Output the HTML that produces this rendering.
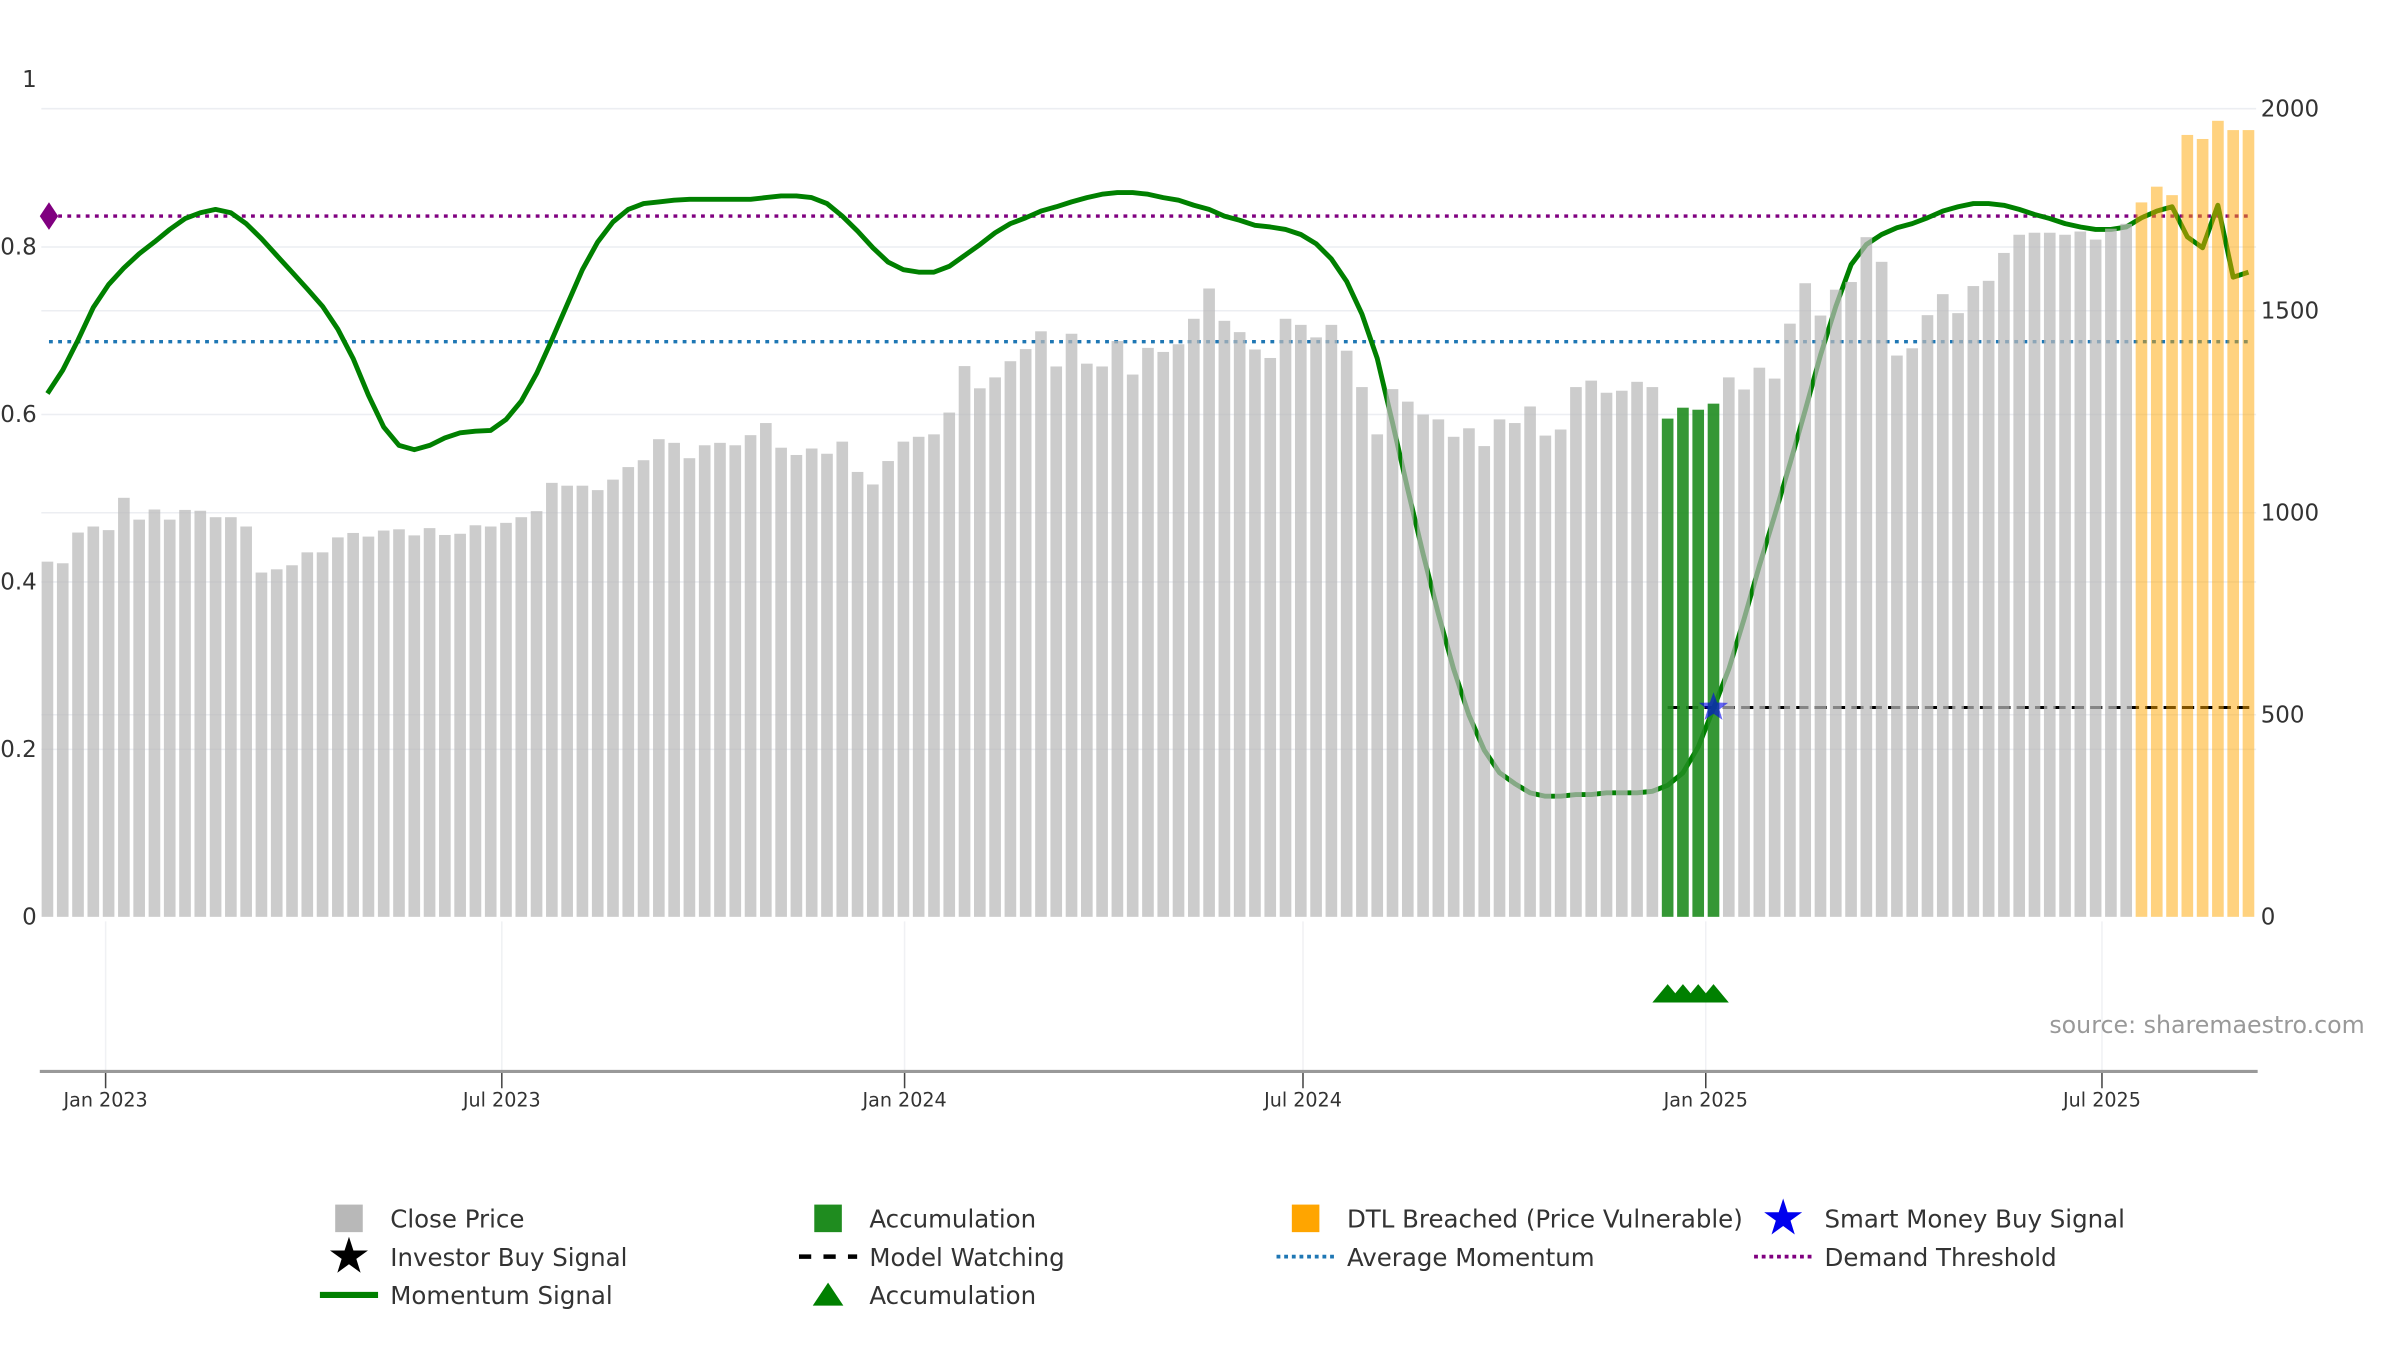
<!DOCTYPE html>
<html><head><meta charset="utf-8"><style>
html,body{margin:0;padding:0;background:#fff;}
svg{display:block;font-family:"DejaVu Sans","Liberation Sans",sans-serif;}
</style></head><body>
<svg id="chart" width="2400" height="1350" viewBox="0 0 1568 882" preserveAspectRatio="none" xmlns="http://www.w3.org/2000/svg">
<g id="grid"></g>
<g id="lines"></g>
<g id="bars"></g>
<g id="overlay"></g>
<g id="axes"></g>
<text x="1545" y="675" text-anchor="end" font-size="15.5" fill="#999">source: sharemaestro.com</text>
<g id="legend"></g>
</svg>
<script>
const prices = [879,875,951,966,957,1037,983,1008,983,1007,1005,989,989,966,852,860,870,902,902,939,950,941,956,959,944,962,945,948,969,966,975,989,1004,1074,1067,1067,1056,1082,1113,1130,1182,1173,1135,1167,1173,1167,1192,1222,1161,1143,1159,1146,1176,1101,1070,1128,1176,1188,1194,1248,1363,1308,1335,1375,1405,1449,1362,1443,1369,1362,1425,1342,1408,1398,1417,1480,1555,1475,1447,1404,1383,1480,1465,1434,1465,1401,1311,1194,1306,1275,1243,1231,1188,1209,1165,1231,1222,1263,1191,1206,1311,1327,1297,1302,1324,1311,1233,1260,1255,1270,1335,1305,1359,1332,1468,1568,1488,1552,1571,1682,1621,1389,1407,1489,1541,1494,1561,1574,1643,1688,1693,1693,1688,1696,1676,1703,1715,1768,1807,1786,1935,1925,1970,1947,1947];
const momentum = [.625,.653,.689,.728,.755,.775,.792,.806,.821,.834,.841,.845,.841,.828,.810,.790,.770,.750,.729,.702,.667,.623,.585,.563,.558,.563,.572,.578,.580,.581,.594,.616,.649,.689,.731,.773,.806,.830,.845,.852,.854,.856,.857,.857,.857,.857,.857,.859,.861,.861,.859,.852,.837,.819,.799,.782,.773,.770,.770,.777,.790,.803,.817,.828,.835,.843,.848,.854,.859,.863,.865,.865,.863,.859,.856,.850,.845,.837,.832,.826,.824,.821,.815,.804,.786,.759,.720,.667,.590,.510,.433,.362,.296,.241,.199,.172,.159,.148,.144,.144,.146,.146,.148,.148,.148,.150,.157,.172,.203,.249,.296,.356,.419,.479,.541,.605,.671,.729,.779,.803,.815,.823,.828,.835,.843,.848,.852,.852,.850,.845,.839,.834,.828,.824,.821,.821,.824,.835,.843,.848,.812,.799,.850,.764,.770];
const accumWeeks = [106,107,108,109];
const dtlStart = 137;
const demandThreshold = 0.837;
const avgMomentum = 0.687;
const watchLevel = 0.25;
const signalWeek = 109;
const leftTicks = [0,0.2,0.4,0.6,0.8,1];
const leftTickLabels = ["0","0.2","0.4","0.6","0.8","1"];
const rightTicks = [0,500,1000,1500,2000];
const dateTicks = ["Jan 2023","Jul 2023","Jan 2024","Jul 2024","Jan 2025","Jul 2025"];
const dateTickDays = [0,181,365,547,731,912];

const NS="http://www.w3.org/2000/svg";
function mk(tag,attrs,parent){const e=document.createElementNS(NS,tag);for(const k in attrs)e.setAttribute(k,attrs[k]);parent.appendChild(e);return e;}
const X0=31,X1=1469,N=prices.length;
const xIdx=i=>X0+i*(X1-X0)/(N-1);
const yL=v=>599-v*547;
const yR=p=>599-p*(528/2000);
const xDay=d=>69+d*(522/365);
const grid=document.getElementById('grid'),lines=document.getElementById('lines'),bars=document.getElementById('bars'),ov=document.getElementById('overlay'),axes=document.getElementById('axes'),lg=document.getElementById('legend');

leftTicks.forEach((t,i)=>{if(t>0&&t<1){const l=mk('line',{x1:27,x2:1474,y1:yL(t),y2:yL(t),stroke:'#eceef2','stroke-width':1},grid);

}
const tx=mk('text',{x:24,y:yL(t)+5,'text-anchor':'end','font-size':15,fill:'#333'},axes);tx.textContent=leftTickLabels[i];

});
rightTicks.forEach(t=>{if(t>0){const l=mk('line',{x1:27,x2:1474,y1:yR(t),y2:yR(t),stroke:'#eceef2','stroke-width':1},grid);

}
const tx=mk('text',{x:1477,y:yR(t)+5,'font-size':15,fill:'#333'},axes);tx.textContent=String(t);

});
dateTicks.forEach((d,i)=>{const x=xDay(dateTickDays[i]);
const g=mk('line',{x1:x,x2:x,y1:602,y2:700,stroke:'#f0f1f4','stroke-width':1},grid);


const t=mk('line',{x1:x,x2:x,y1:700,y2:711,stroke:'#444','stroke-width':1},axes);


const tx=mk('text',{x:x,y:723,'text-anchor':'middle','font-size':12.5,fill:'#333'},axes);tx.textContent=d;

});
const ax=mk('line',{x1:26,x2:1475,y1:700,y2:700,stroke:'#999','stroke-width':2},axes);



const dt=mk('line',{x1:32,x2:1470,y1:yL(demandThreshold),y2:yL(demandThreshold),stroke:'#800080','stroke-width':2.2,'stroke-dasharray':'2.5 3.5'},lines);


const am=mk('line',{x1:32,x2:1470,y1:yL(avgMomentum),y2:yL(avgMomentum),stroke:'#1f77b4','stroke-width':2.2,'stroke-dasharray':'2.5 3.5'},lines);


const mw=mk('line',{x1:xIdx(accumWeeks[0]),x2:1470,y1:yL(watchLevel),y2:yL(watchLevel),stroke:'#000','stroke-width':2,'stroke-dasharray':'8 4'},lines);


const dm=mk('path',{d:`M${32-6},${yL(demandThreshold)} L32,${yL(demandThreshold)-9} L${32+6},${yL(demandThreshold)} L32,${yL(demandThreshold)+9}Z`,fill:'#800080'},lines);


let d='';momentum.forEach((v,i)=>{const x=X0+i*(X1-X0)/(momentum.length-1);d+=(i?'L':'M')+x.toFixed(1)+','+yL(v).toFixed(1);});
const ml=mk('path',{d:d,fill:'none',stroke:'#008000','stroke-width':3.2,'stroke-linejoin':'round'},lines);



const bw=7.6;
prices.forEach((p,i)=>{let fill='#b8b8b8',op=0.72,name='close-price-bar';
if(accumWeeks.includes(i)){fill='#1f8c1f';op=0.9;name='accumulation-bar';}
else if(i>=dtlStart){fill='#ffa500';op=0.5;name='dtl-breached-bar';}
const r=mk('rect',{x:xIdx(i)-bw/2,y:yR(p),width:bw,height:599-yR(p),fill:fill,'fill-opacity':op},bars);

});

function starPath(cx,cy,R,r){let s='';for(let k=0;k<10;k++){const a=-Math.PI/2+k*Math.PI/5,rr=k%2?r:R;s+=(k?'L':'M')+(cx+rr*Math.cos(a)).toFixed(1)+','+(cy+rr*Math.sin(a)).toFixed(1);}return s+'Z';}
const st=mk('path',{d:starPath(xIdx(signalWeek),yL(watchLevel),10,4),fill:'#0000ee','fill-opacity':0.6},ov);


accumWeeks.forEach(i=>{const x=xIdx(i);const t=mk('path',{d:`M${x-10},655 L${x},643 L${x+10},655Z`,fill:'#008000'},ov);

});

const cols=[228,541,853,1165],rows=[796,821,846];
const items=[
[0,0,'Close Price','sq','#b8b8b8'],[1,0,'Accumulation','sq','#1f8c1f'],[2,0,'DTL Breached (Price Vulnerable)','sq','#ffa500'],[3,0,'Smart Money Buy Signal','star','#0000ee'],
[0,1,'Investor Buy Signal','star','#000'],[1,1,'Model Watching','dash','#000'],[2,1,'Average Momentum','dot','#1f77b4'],[3,1,'Demand Threshold','dot','#800080'],
[0,2,'Momentum Signal','line','#008000'],[1,2,'Accumulation','tri','#008000']];
items.forEach(it=>{const x=cols[it[0]],y=rows[it[1]];const g=mk('g',{},lg);


if(it[3]==='sq')mk('rect',{x:x-9,y:y-9,width:18,height:18,fill:it[4]},g);
else if(it[3]==='star')mk('path',{d:starPath(x,y,13,5),fill:it[4]},g);
else if(it[3]==='dash')mk('line',{x1:x-19,x2:x+19,y1:y,y2:y,stroke:it[4],'stroke-width':3,'stroke-dasharray':'8 8'},g);
else if(it[3]==='dot')mk('line',{x1:x-19,x2:x+19,y1:y,y2:y,stroke:it[4],'stroke-width':2.5,'stroke-dasharray':'2.5 2.5'},g);
else if(it[3]==='line')mk('line',{x1:x-19,x2:x+19,y1:y,y2:y,stroke:it[4],'stroke-width':4},g);
else if(it[3]==='tri')mk('path',{d:`M${x-10},${y+7} L${x},${y-8} L${x+10},${y+7}Z`,fill:it[4]},g);
const t=mk('text',{x:cols[it[0]]+27,y:y+6,'font-size':16,fill:'#333'},g);t.textContent=it[2];});
</script>
</body></html>
